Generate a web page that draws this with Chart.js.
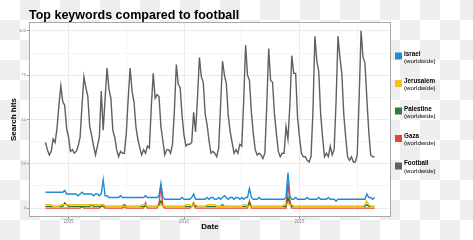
<!DOCTYPE html>
<html>
<head>
<meta charset="utf-8">
<script src="https://cdn.jsdelivr.net/npm/chart.js@4"></script>
<style>
html, body { margin: 0; padding: 0; }
body {
  width: 473px; height: 240px; overflow: hidden;
  background: repeating-conic-gradient(#eeeeee 0 25%, #ffffff 0 50%) 0 0 / 40px 40px;
}
</style>
</head>
<body>
<canvas id="myChart" width="473" height="240"></canvas>
<script>
// monthly google trends, 2004-01 .. 2018-04
const startYear = 2004;

const football = [
  37, 33, 30, 32, 39, 37, 45, 58, 69, 60, 58, 45,
  40, 32, 33, 31, 32, 35, 40, 58, 74, 68, 63, 46,
  41, 35, 30, 35, 40, 66, 44, 62, 79, 67, 62, 44,
  40, 33, 29, 32, 31, 31, 42, 62, 79, 66, 60, 46,
  39, 34, 30, 33, 31, 35, 34, 57, 76, 62, 64, 63,
  46, 38, 30, 33, 33, 31, 36, 55, 81, 70, 68, 52,
  41, 35, 36, 36, 37, 54, 43, 62, 85, 74, 71, 53,
  47, 38, 31, 32, 31, 29, 34, 58, 83, 75, 70, 52,
  43, 37, 31, 33, 31, 36, 35, 60, 92, 75, 72, 54,
  42, 33, 30, 31, 30, 28, 31, 58, 90, 72, 71, 53,
  42, 32, 29, 31, 31, 46, 39, 58, 86, 76, 76, 51,
  40, 31, 29, 29, 27, 26, 29, 55, 97, 83, 77, 53,
  40, 29, 31, 29, 35, 30, 33, 60, 97, 85, 76, 53,
  40, 29, 27, 29, 26, 26, 30, 62, 100, 85, 82, 62,
  43, 30, 29, 29
];
const israel = [
  9, 9, 9, 9, 9, 9, 9, 9, 9, 9, 10, 8,
  8, 8, 8, 8, 8, 7, 8, 9, 8, 8, 8, 8,
  8, 7, 8, 8, 7, 8, 16, 7, 7, 6, 6, 6,
  6, 6, 6, 7, 6, 6, 6, 6, 6, 6, 6, 6,
  6, 6, 6, 6, 7, 6, 6, 6, 6, 6, 6, 7,
  14, 6, 5, 5, 5, 5, 5, 5, 5, 5, 5, 6,
  5, 5, 5, 5, 6, 8, 5, 5, 5, 5, 5, 5,
  6, 5, 6, 6, 5, 5, 6, 5, 6, 7, 6, 5,
  6, 6, 5, 6, 6, 5, 6, 5, 6, 6, 11, 6,
  5, 5, 5, 6, 5, 5, 5, 5, 5, 5, 5, 5,
  5, 5, 5, 5, 5, 6, 20, 7, 5, 5, 6, 5,
  5, 5, 5, 5, 6, 5, 5, 5, 5, 5, 6, 5,
  5, 5, 5, 6, 5, 5, 5, 4, 5, 5, 5, 5,
  5, 5, 5, 5, 5, 5, 5, 5, 5, 5, 5, 8,
  6, 6, 5, 6
];
const jerusalem = [
  2, 2, 2, 2, 1, 1, 1, 1, 2, 2, 2, 2,
  2, 2, 2, 2, 2, 2, 2, 2, 2, 2, 2, 2,
  2, 2, 2, 2, 2, 2, 2, 1, 1, 1, 1, 1,
  1, 1, 1, 1, 1, 1, 1, 1, 1, 1, 1, 1,
  1, 1, 2, 2, 2, 1, 1, 1, 1, 1, 1, 1,
  2, 1, 1, 1, 1, 1, 1, 1, 1, 1, 1, 1,
  1, 2, 2, 2, 1, 2, 2, 1, 1, 1, 1, 1,
  2, 2, 2, 2, 2, 1, 1, 1, 1, 1, 1, 1,
  1, 1, 1, 1, 1, 1, 1, 2, 2, 1, 1, 1,
  1, 1, 1, 1, 1, 1, 1, 1, 1, 1, 1, 1,
  1, 1, 1, 1, 2, 2, 2, 2, 2, 1, 1, 1,
  1, 1, 1, 1, 1, 1, 1, 1, 1, 1, 1, 1,
  1, 1, 1, 1, 1, 1, 1, 1, 1, 1, 1, 1,
  1, 1, 1, 1, 1, 1, 1, 1, 1, 1, 2, 4,
  2, 1, 1, 1
];
const palestine = [
  1, 1, 1, 1, 1, 1, 1, 1, 1, 1, 3, 2,
  1, 1, 1, 1, 1, 1, 1, 1, 1, 1, 1, 1,
  2, 1, 1, 1, 1, 1, 2, 1, 1, 1, 1, 1,
  1, 1, 1, 1, 1, 2, 1, 1, 1, 1, 1, 1,
  1, 1, 1, 1, 1, 1, 1, 1, 1, 1, 1, 2,
  4, 1, 1, 1, 1, 1, 1, 1, 1, 1, 1, 1,
  1, 1, 1, 1, 1, 2, 1, 1, 1, 1, 1, 1,
  1, 1, 1, 1, 1, 1, 1, 1, 2, 1, 1, 1,
  1, 1, 1, 1, 1, 1, 1, 1, 1, 1, 3, 1,
  1, 1, 1, 1, 1, 1, 1, 1, 1, 1, 1, 1,
  1, 1, 1, 1, 1, 1, 6, 2, 1, 1, 1, 1,
  1, 1, 1, 1, 1, 1, 1, 1, 1, 1, 1, 1,
  1, 1, 1, 1, 1, 1, 1, 1, 1, 1, 1, 1,
  1, 1, 1, 1, 1, 1, 1, 1, 1, 1, 1, 2,
  1, 1, 1, 1
];
const gaza = [
  0, 0, 0, 0, 0, 0, 0, 0, 0, 0, 0, 0,
  0, 0, 0, 0, 0, 0, 0, 1, 0, 0, 0, 0,
  0, 0, 0, 0, 0, 1, 1, 0, 0, 0, 0, 0,
  0, 0, 0, 0, 0, 1, 0, 0, 0, 0, 0, 0,
  0, 0, 0, 0, 3, 0, 0, 0, 0, 0, 0, 2,
  13, 1, 0, 0, 0, 0, 0, 0, 0, 0, 0, 0,
  0, 0, 0, 0, 1, 3, 0, 0, 0, 0, 0, 0,
  0, 0, 0, 0, 0, 0, 0, 0, 0, 0, 0, 0,
  0, 0, 0, 0, 0, 0, 0, 0, 0, 0, 4, 0,
  0, 0, 0, 0, 0, 0, 0, 0, 0, 0, 0, 0,
  0, 0, 0, 0, 0, 0, 14, 4, 0, 0, 0, 0,
  0, 0, 0, 0, 0, 0, 0, 0, 0, 0, 0, 0,
  0, 0, 0, 0, 0, 0, 0, 0, 0, 0, 0, 0,
  0, 0, 0, 0, 0, 0, 0, 0, 0, 0, 0, 0,
  0, 0, 0, 0
];

const names = ['Israel', 'Jerusalem', 'Palestine', 'Gaza', 'Football'];
const colors = ['#1e8bd3', '#f6c21a', '#2f7d32', '#ea4335', '#606060'];
const xTicks = [2005, 2007.5, 2010, 2012.5, 2015, 2017.5];
const xLabels = [2005, 2010, 2015];
const yTicks = [0, 12.5, 25, 37.5, 50, 62.5, 75, 87.5, 100];
const yLabels = [0, 25, 50, 75, 100];

function points(vals) {
  return vals.map((v, i) => ({ x: startYear + i / 12, y: v }));
}

const FONT = '"Liberation Sans", Arial, sans-serif';

// white panel, border, title and right-hand legend
const panel = {
  id: 'panel',
  beforeDraw(chart) {
    const { ctx, chartArea: a } = chart;
    ctx.save();
    ctx.fillStyle = '#ffffff';
    ctx.fillRect(a.left, a.top, a.width, a.height);
    ctx.restore();
  },
  afterDraw(chart) {
    const { ctx, chartArea: a } = chart;
    ctx.save();
    ctx.strokeStyle = '#a8a8a8';
    ctx.lineWidth = 1;
    ctx.strokeRect(a.left + 0.5, a.top + 0.5, a.width - 1, a.height - 1);

    ctx.fillStyle = '#000';
    ctx.textBaseline = 'alphabetic';
    ctx.font = 'bold 12.5px ' + FONT;
    ctx.fillText('Top keywords compared to football', 29, 19.3);

    names.forEach((n, i) => {
      ctx.fillStyle = colors[i];
      ctx.fillRect(395, 52.5 + i * 27.5, 7, 7);
      ctx.fillStyle = '#000';
      ctx.font = 'bold 6.3px ' + FONT;
      ctx.fillText(n, 404, 55.8 + i * 27.4);
      ctx.font = '6.2px ' + FONT;
      ctx.fillText('(worldwide)', 404, 63 + i * 27.4);
    });
    ctx.restore();
  }
};

const series = [israel, jerusalem, palestine, gaza, football];

const ctx = document.getElementById('myChart').getContext('2d');
const myChart = new Chart(ctx, {
  type: 'line',
  data: {
    datasets: series.map((s, i) => ({
      label: names[i],
      data: points(s),
      borderColor: colors[i],
      borderWidth: 1.4,
      pointRadius: 0,
      tension: 0,
      fill: false
    }))
  },
  options: {
    responsive: false,
    animation: false,
    devicePixelRatio: 1,
    layout: { padding: { left: 0, top: 22, right: 82, bottom: 0 } },
    plugins: { legend: { display: false }, tooltip: { enabled: false } },
    scales: {
      x: {
        type: 'linear',
        min: 2003.2875,
        max: 2018.9625,
        afterFit: s => { s.height = 23; },
        afterBuildTicks: s => { s.ticks = xTicks.map(v => ({ value: v })); },
        border: { display: false },
        grid: {
          color: c => xLabels.includes(c.tick.value) ? '#ebebeb' : '#f5f5f5',
          tickLength: 2,
          tickColor: c => xLabels.includes(c.tick.value) ? '#9a9a9a' : 'rgba(0,0,0,0)'
        },
        ticks: {
          autoSkip: false,
          maxRotation: 0,
          padding: 0.5,
          color: '#7f7f7f',
          font: { size: 4.5, family: FONT },
          callback: v => xLabels.includes(v) ? String(v) : ''
        },
        title: {
          display: true,
          text: 'Date',
          color: '#000',
          font: { size: 8, weight: 'bold', family: FONT },
          padding: { top: 0, bottom: 8.5 }
        }
      },
      y: {
        min: -5,
        max: 105,
        afterFit: s => { s.width = 29; },
        afterBuildTicks: s => { s.ticks = yTicks.map(v => ({ value: v })); },
        border: { display: false },
        grid: {
          color: c => yLabels.includes(c.tick.value) ? '#ebebeb' : '#f5f5f5',
          tickLength: 2,
          tickColor: c => yLabels.includes(c.tick.value) ? '#9a9a9a' : 'rgba(0,0,0,0)'
        },
        ticks: {
          autoSkip: false,
          padding: 1,
          color: '#7f7f7f',
          font: { size: 4.2, family: FONT },
          callback: v => yLabels.includes(v) ? String(v) : ''
        },
        title: {
          display: true,
          text: 'Search hits',
          color: '#000',
          font: { size: 8, weight: 'bold', family: FONT },
          padding: { top: 8.7, bottom: 0 }
        }
      }
    }
  },
  plugins: [panel]
});
</script>
</body>
</html>
